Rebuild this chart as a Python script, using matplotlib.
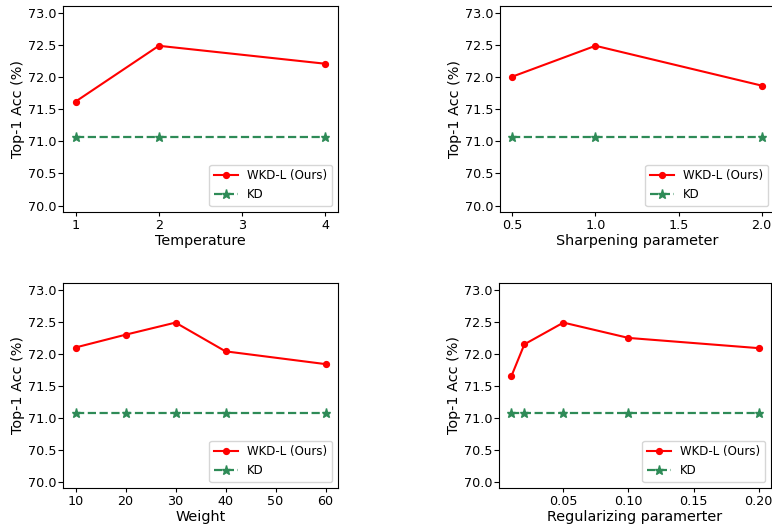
import matplotlib
matplotlib.use("Agg")
import matplotlib.pyplot as plt

kd_acc = 71.07

temp_x = [1, 2, 4]
temp_y = [71.62, 72.49, 72.21]

sharp_x = [0.5, 1.0, 2.0]
sharp_y = [72.01, 72.49, 71.87]

weight_x = [10, 20, 30, 40, 60]
weight_y = [72.10, 72.30, 72.49, 72.04, 71.84]

reg_x = [0.01, 0.02, 0.05, 0.10, 0.20]
reg_y = [71.65, 72.15, 72.49, 72.25, 72.09]

yticks = [70.0, 70.5, 71.0, 71.5, 72.0, 72.5, 73.0]

panels = [
    (temp_x, temp_y, "Temperature", [1, 2, 3, 4], None),
    (sharp_x, sharp_y, "Sharpening parameter", [0.5, 1.0, 1.5, 2.0], "{:.1f}"),
    (weight_x, weight_y, "Weight", [10, 20, 30, 40, 50, 60], None),
    (reg_x, reg_y, "Regularizing paramerter", [0.05, 0.10, 0.15, 0.20], "{:.2f}"),
]

positions = [
    [63/772, (525-212)/525, 275/772, 206/525],
    [500/772, (525-212)/525, 274/772, 206/525],
    [63/772, (525-488)/525, 275/772, 205/525],
    [499/772, (525-488)/525, 272/772, 205/525],
]

fig = plt.figure(figsize=(7.72, 5.25), dpi=100)
for (x, y, xlabel, xt, fmt), pos in zip(panels, positions):
    ax = fig.add_axes(pos)
    ax.plot(x, y, color="red", marker="o", markersize=4.2, linewidth=1.5,
            label="WKD-L (Ours)")
    ax.plot(x, [kd_acc] * len(x), color="seagreen", linestyle="--", marker="*",
            markersize=6.5, linewidth=1.6, label="KD")
    ax.set_ylim(69.9, 73.11)
    ax.set_yticks(yticks)
    ax.set_yticklabels([f"{v:.1f}" for v in yticks])
    ax.set_xticks(xt)
    if fmt:
        ax.set_xticklabels([fmt.format(v) for v in xt])
    ax.tick_params(axis="x", labelsize=9.2, length=3, pad=1.8)
    ax.tick_params(axis="y", labelsize=9.2, length=3.5, pad=1.5)
    ax.set_xlabel(xlabel, fontsize=10.4, labelpad=1.5)
    ax.set_ylabel("Top-1 Acc (%)", fontsize=10.4, labelpad=2)
    ax.legend(loc="lower right", fontsize=8.5)

fig.savefig("out.png", dpi=100)
